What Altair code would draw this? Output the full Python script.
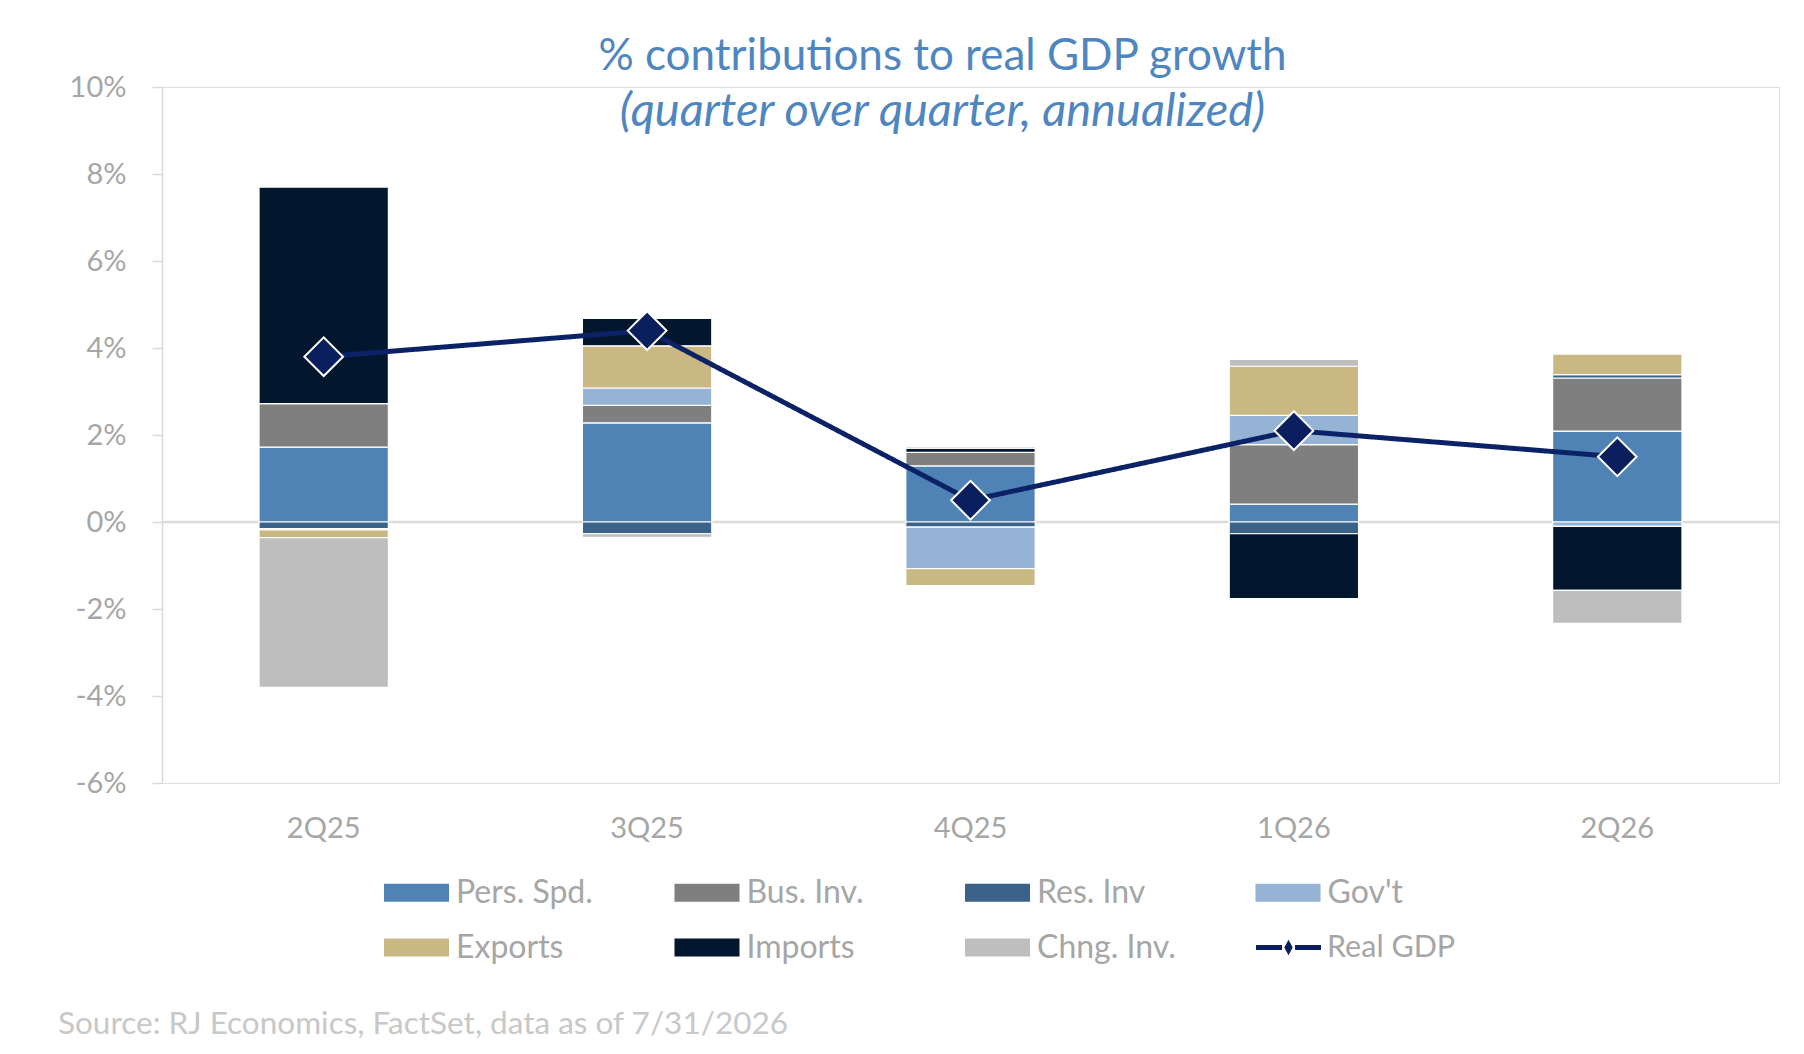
import altair as alt
import pandas as pd

quarters = ["2Q25", "3Q25", "4Q25", "1Q26", "2Q26"]
components = ["Pers. Spd.", "Bus. Inv.", "Res. Inv", "Gov't", "Exports", "Imports", "Chng. Inv."]
component_colors = ["#4f83b5", "#7f7f7f", "#3b6289", "#95b3d4", "#c9b784", "#02172d", "#bebebe"]

pers_spd = [1.72, 2.28, 1.29, 0.41, 2.09]
bus_inv = [1.00, 0.40, 0.31, 1.37, 1.22]
res_inv = [-0.15, -0.27, -0.12, -0.27, 0.08]
govt = [-0.03, 0.40, -0.95, 0.67, -0.10]
exports = [-0.18, 0.97, -0.39, 1.13, 0.47]
imports = [4.98, 0.63, 0.10, -1.49, -1.47]
chng_inv = [-3.44, -0.08, 0.04, 0.16, -0.76]
real_gdp = [3.8, 4.4, 0.5, 2.1, 1.5]

y_ticks = [-6, -4, -2, 0, 2, 4, 6, 8, 10]
title_text = "% contributions to real GDP growth"
subtitle_text = "(quarter over quarter, annualized)"
source_text = "Source: RJ Economics, FactSet, data as of 7/31/2026"

FONT = "Lato"
GRAY_TXT = "#a6a6a6"
NAVY = "#0b1f5e"
LINE_NAVY = "#0c2266"

series_values = [pers_spd, bus_inv, res_inv, govt, exports, imports, chng_inv]
rows = []
for i, (name, vals) in enumerate(zip(components, series_values)):
    for q, v in zip(quarters, vals):
        rows.append({"quarter": q, "component": name, "order": i, "value": v})
bars_df = pd.DataFrame(rows)
gdp_df = pd.DataFrame({"quarter": quarters, "value": real_gdp, "series": ["Real GDP"] * len(quarters)})
src_df = pd.DataFrame({"t": [source_text]})

y_scale = alt.Scale(domain=[-6, 10], nice=False, zero=False)
x_enc = alt.X(
    "quarter:N",
    sort=quarters,
    scale=alt.Scale(paddingInner=0.6, paddingOuter=0.3),
    axis=alt.Axis(title=None, domain=False, ticks=False, labelAngle=0, labelPadding=31,
                  labelFont=FONT, labelFontSize=29, labelColor=GRAY_TXT),
)
y_axis = alt.Axis(title=None, values=y_ticks, labelExpr="datum.value + '%'", grid=False,
                  domainColor="#d9d9d9", domainWidth=1.5, tickColor="#d9d9d9", tickSize=10,
                  tickWidth=1.5, labelPadding=26, labelFont=FONT, labelFontSize=29,
                  labelColor=GRAY_TXT)

zero_rule = alt.Chart(src_df).mark_rule(color="#dcdcdc", strokeWidth=2.5).encode(
    y=alt.Y(datum=0, scale=y_scale)
)

bars = alt.Chart(bars_df).mark_bar(stroke="white", strokeWidth=1.2).encode(
    x=x_enc,
    y=alt.Y("value:Q", stack="zero", scale=y_scale, axis=y_axis),
    color=alt.Color(
        "component:N",
        scale=alt.Scale(domain=components, range=component_colors),
        legend=alt.Legend(
            orient="none", legendX=222, legendY=773, columns=4, direction="horizontal",
            title=None, symbolType="M-1,-0.28H1V0.28H-1Z", symbolSize=4225,
            symbolStrokeWidth=0, symbolOpacity=1, labelFont=FONT, labelFontSize=32,
            labelColor=GRAY_TXT, labelOffset=7, columnPadding=79.5, rowPadding=6,
            gridAlign="all", labelLimit=400,
        ),
    ),
    order=alt.Order("order:Q", sort="ascending"),
)

gdp_symbol = ("M-1,-0.08H-0.2V0.08H-1Z M0.2,-0.08H1V0.08H0.2Z "
              "M0,-0.24L0.13,0L0,0.24L-0.13,0Z")

line = alt.Chart(gdp_df).mark_line(color=LINE_NAVY, strokeWidth=5).encode(
    x=alt.X("quarter:N", sort=quarters),
    y=alt.Y("value:Q", scale=y_scale),
    strokeDash=alt.StrokeDash(
        "series:N",
        scale=alt.Scale(domain=["Real GDP"], range=[[1, 0]]),
        legend=alt.Legend(
            orient="none", legendX=1094, legendY=828, title=None,
            symbolType=gdp_symbol, symbolSize=4225, symbolFillColor=NAVY,
            symbolStrokeColor=NAVY, symbolStrokeWidth=0, symbolOpacity=1,
            labelFont=FONT, labelFontSize=30.5, labelColor=GRAY_TXT, labelOffset=6,
        ),
    ),
)

points = alt.Chart(gdp_df).mark_point(
    shape="diamond", filled=True, size=1500, fill=NAVY, stroke="white",
    strokeWidth=2, opacity=1,
).encode(
    x=alt.X("quarter:N", sort=quarters),
    y=alt.Y("value:Q", scale=y_scale),
)

source = alt.Chart(src_df).mark_text(
    align="left", baseline="middle", font=FONT, fontSize=31.5, color="#c8c8c8"
).encode(x=alt.value(-104), y=alt.value(938), text="t:N")

chart = alt.layer(zero_rule, bars, line, points, source).properties(
    width=1617,
    height=696,
    padding={"left": 154, "top": 79, "right": 17, "bottom": 259},
    autosize=alt.AutoSizeParams(type="none"),
    title=alt.TitleParams(
        text=title_text, subtitle=subtitle_text, anchor="middle", frame="group",
        dx=-28, offset=-62, font=FONT, fontSize=44, fontWeight="normal",
        color="#4f86bf", subtitleFont=FONT, subtitleFontSize=47,
        subtitleFontStyle="italic", subtitleColor="#4f86bf", subtitlePadding=10,
    ),
).configure_view(stroke=None).configure(background="white")

chart.save("out.html", embed_options={"renderer": "svg", "actions": False})
